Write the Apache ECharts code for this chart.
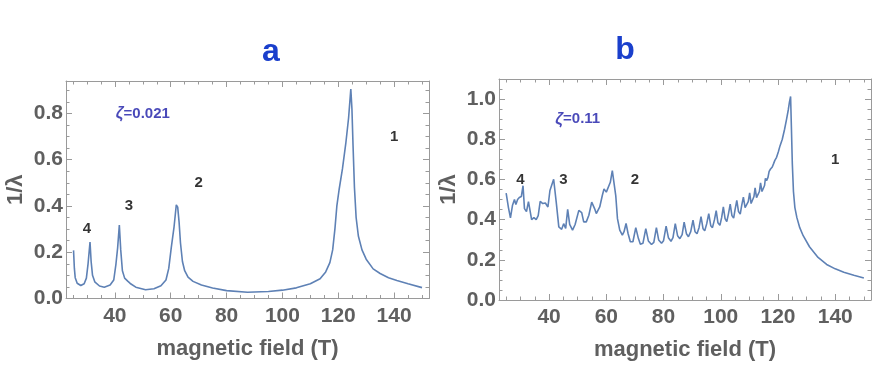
<!DOCTYPE html>
<html>
<head>
<meta charset="utf-8">
<script src="https://cdn.jsdelivr.net/npm/echarts@6/dist/echarts.min.js"></script>
<style>
html, body { margin: 0; padding: 0; background: #fff; }
#chart { width: 872px; height: 366px; }
</style>
</head>
<body>
<div id="chart"></div>
<script>
// panel a: zeta = 0.021
var fieldA = [25.2, 25.5, 25.8, 26.5, 27.8, 29.0, 29.8, 30.4, 31.1, 31.5, 32.0, 32.8, 34.5, 36.2, 38.3, 39.6, 40.4, 41.0, 41.6, 42.1, 42.7, 43.5, 44.6, 45.5, 47.5, 51.0, 54.0, 56.5, 58.3, 59.3, 60.2, 61.2, 62.0, 62.5, 63.0, 63.5, 64.2, 65.0, 66.2, 68.0, 71.0, 75.0, 80.0, 87.5, 95.0, 100, 105, 110, 113.5, 115.5, 117, 118, 118.8, 119.5, 120.3, 121.5, 122.7, 123.7, 124.5, 124.9, 125.3, 125.8, 126.4, 127.2, 128.5, 130, 132.5, 135, 138, 141, 145, 150];
var invLambdaA = [0.208, 0.13, 0.09, 0.066, 0.056, 0.064, 0.088, 0.15, 0.244, 0.16, 0.1, 0.072, 0.054, 0.049, 0.058, 0.08, 0.15, 0.22, 0.317, 0.21, 0.12, 0.088, 0.075, 0.065, 0.049, 0.038, 0.042, 0.055, 0.08, 0.13, 0.22, 0.31, 0.405, 0.395, 0.33, 0.24, 0.16, 0.12, 0.092, 0.074, 0.058, 0.045, 0.034, 0.027, 0.03, 0.036, 0.046, 0.064, 0.085, 0.115, 0.155, 0.21, 0.3, 0.4, 0.47, 0.56, 0.67, 0.78, 0.905, 0.82, 0.66, 0.48, 0.35, 0.27, 0.21, 0.17, 0.128, 0.108, 0.09, 0.078, 0.064, 0.047];

// panel b: zeta = 0.11
var fieldB = [25.0, 25.8, 26.5, 27.2, 27.9, 28.4, 29.0, 29.6, 30.3, 30.9, 31.4, 32.1, 32.8, 33.2, 33.9, 34.7, 35.5, 36.2, 36.9, 37.8, 38.7, 39.6, 40.3, 40.9, 41.6, 42.5, 43.4, 44.4, 45.1, 45.8, 46.5, 47.2, 48.2, 49.1, 49.7, 50.4, 51.4, 52.1, 53.0, 53.9, 54.9, 55.9, 56.5, 57.7, 58.6, 59.2, 60.0, 60.6, 61.4, 62.1, 62.7, 63.3, 63.9, 64.7, 65.6, 66.2, 66.9, 67.6, 68.4, 69.3, 70.3, 71.2, 71.9, 72.8, 73.8, 74.7, 75.8, 76.6, 77.5, 78.3, 79.3, 80.0, 80.9, 81.7, 82.6, 83.3, 84.1, 84.9, 85.7, 86.5, 87.2, 88.0, 88.7, 89.5, 90.3, 91.0, 91.7, 92.4, 93.1, 93.8, 94.4, 95.1, 95.8, 96.5, 97.1, 97.8, 98.4, 99.0, 99.7, 100.3, 100.9, 101.5, 102.1, 102.7, 103.3, 103.9, 104.5, 105.0, 105.6, 106.2, 106.8, 107.3, 107.9, 108.5, 109.1, 109.6, 110.1, 110.6, 111.1, 111.6, 112.0, 112.5, 113.0, 113.5, 113.9, 114.4, 114.8, 115.3, 115.6, 116.0, 116.5, 116.9, 117.4, 118.0, 118.5, 118.9, 119.5, 120.1, 120.7, 121.5, 122.3, 123.0, 123.6, 124.0, 124.4, 124.7, 125.0, 125.4, 125.9, 126.6, 127.6, 128.8, 131, 134, 137, 140, 143, 146.5, 150];
var invLambdaB = [0.532, 0.46, 0.409, 0.47, 0.5, 0.475, 0.5, 0.51, 0.515, 0.569, 0.455, 0.44, 0.49, 0.482, 0.40, 0.41, 0.40, 0.42, 0.491, 0.48, 0.483, 0.463, 0.545, 0.55, 0.601, 0.487, 0.364, 0.352, 0.38, 0.356, 0.451, 0.376, 0.348, 0.376, 0.372, 0.446, 0.435, 0.389, 0.389, 0.422, 0.487, 0.455, 0.43, 0.463, 0.52, 0.553, 0.537, 0.54, 0.586, 0.644, 0.635, 0.52, 0.405, 0.348, 0.323, 0.34, 0.381, 0.331, 0.29, 0.29, 0.36, 0.307, 0.278, 0.282, 0.355, 0.294, 0.276, 0.287, 0.36, 0.299, 0.282, 0.295, 0.368, 0.31, 0.292, 0.31, 0.38, 0.32, 0.305, 0.325, 0.388, 0.33, 0.315, 0.34, 0.398, 0.34, 0.33, 0.36, 0.415, 0.355, 0.345, 0.38, 0.43, 0.37, 0.36, 0.4, 0.445, 0.385, 0.372, 0.41, 0.463, 0.405, 0.39, 0.43, 0.477, 0.42, 0.408, 0.45, 0.496, 0.44, 0.428, 0.47, 0.512, 0.46, 0.452, 0.49, 0.533, 0.48, 0.475, 0.515, 0.558, 0.51, 0.505, 0.54, 0.583, 0.54, 0.537, 0.57, 0.606, 0.594, 0.61, 0.64, 0.652, 0.662, 0.68, 0.695, 0.71, 0.737, 0.767, 0.8, 0.85, 0.9, 0.947, 0.985, 1.013, 0.85, 0.68, 0.54, 0.46, 0.41, 0.36, 0.32, 0.265, 0.212, 0.177, 0.155, 0.138, 0.123, 0.11];

// ticks
var xMajor = [40, 60, 80, 100, 120, 140];
var xMinor = [25, 30, 35, 45, 50, 55, 65, 70, 75, 85, 90, 95, 105, 110, 115, 125, 130, 135, 145, 150];
var yMajorA = [0, 0.2, 0.4, 0.6, 0.8];
var yMinorA = [0.05, 0.1, 0.15, 0.25, 0.3, 0.35, 0.45, 0.5, 0.55, 0.65, 0.7, 0.75, 0.85, 0.9];
var yMajorB = [0, 0.2, 0.4, 0.6, 0.8, 1.0];
var yMinorB = [0.05, 0.1, 0.15, 0.25, 0.3, 0.35, 0.45, 0.5, 0.55, 0.65, 0.7, 0.75, 0.85, 0.9, 0.95, 1.05];

// peak numbers and zeta labels (data coordinates)
var peakTagsA = [[30, 0.3, '4'], [45, 0.4, '3'], [70, 0.5, '2'], [140, 0.7, '1']];
var peakTagsB = [[30, 0.6, '4'], [45, 0.6, '3'], [70, 0.6, '2'], [140, 0.7, '1']];
var zetaA = [50, 0.8, '0.021'];
var zetaB = [50, 0.9, '0.11'];

var FONT = '"Liberation Sans", Arial, sans-serif';
var GRAY = '#5f5f5f';
var FRAME = '#9a9a9a';

function toPairs(xs, ys) {
  return xs.map(function (x, i) { return [x, ys[i]]; });
}

// four sides, each with a major and a minor tick layer (frame ticks like Mathematica)
function makeAxes(dim, grid, min, max, majors, minors, name, fmt) {
  var sides = dim === 'x' ? ['bottom', 'top'] : ['left', 'right'];
  var out = [];
  sides.forEach(function (pos, s) {
    [true, false].forEach(function (isMajor) {
      var main = s === 0 && isMajor;
      out.push({
        type: 'value',
        gridIndex: grid,
        position: pos,
        min: min,
        max: max,
        name: main ? name : '',
        nameLocation: 'middle',
        nameGap: dim === 'x' ? 39 : 39,
        nameTextStyle: { fontFamily: FONT, fontSize: 22, fontWeight: 'bold', color: GRAY },
        axisLine: { show: isMajor, onZero: false, lineStyle: { color: FRAME, width: 1 } },
        axisTick: {
          show: true,
          inside: true,
          length: isMajor ? 6 : 3.5,
          customValues: isMajor ? majors : minors,
          lineStyle: { color: FRAME, width: 1 }
        },
        axisLabel: {
          show: main,
          customValues: majors,
          margin: dim === 'x' ? 7 : 3,
          fontFamily: FONT,
          fontSize: 21,
          fontWeight: 'bold',
          color: GRAY,
          formatter: fmt
        },
        splitLine: { show: false }
      });
    });
  });
  return out;
}

function tagSeries(xi, yi, tags, color) {
  return {
    type: 'scatter',
    xAxisIndex: xi,
    yAxisIndex: yi,
    symbolSize: 1,
    itemStyle: { color: 'rgba(0,0,0,0)' },
    silent: true,
    label: {
      show: true,
      position: 'inside',
      fontFamily: FONT,
      fontSize: 15,
      fontWeight: 'bold',
      color: color,
      formatter: function (p) { return p.data[2]; }
    },
    data: tags
  };
}

function zetaSeries(xi, yi, z) {
  return {
    type: 'scatter',
    xAxisIndex: xi,
    yAxisIndex: yi,
    symbolSize: 1,
    itemStyle: { color: 'rgba(0,0,0,0)' },
    silent: true,
    label: {
      show: true,
      position: 'inside',
      formatter: function (p) { return '{g|ζ}{n|=' + p.data[2] + '}'; },
      rich: {
        g: { fontFamily: FONT, fontSize: 16, fontWeight: 'bold', fontStyle: 'italic', color: '#1c1ca8' },
        n: { fontFamily: FONT, fontSize: 15, fontWeight: 'bold', color: '#1c1ca8' }
      }
    },
    data: [z]
  };
}

var fmt1 = function (v) { return v.toFixed(1); };
var fmt0 = function (v) { return String(Math.round(v)); };

var xAxes = makeAxes('x', 0, 22.5, 152.5, xMajor, xMinor, 'magnetic field (T)', fmt0)
  .concat(makeAxes('x', 1, 22.5, 152.5, xMajor, xMinor, 'magnetic field (T)', fmt0));
var yAxes = makeAxes('y', 0, 0, 0.94, yMajorA, yMinorA, '1/λ', fmt1)
  .concat(makeAxes('y', 1, 0, 1.1, yMajorB, yMinorB, '1/λ', fmt1));

var chart = echarts.init(document.getElementById('chart'));
chart.setOption({
  animation: false,
  backgroundColor: '#fff',
  title: [
    { text: 'a', left: 266, top: 31, textAlign: 'center',
      textStyle: { fontFamily: FONT, fontSize: 32, fontWeight: 'bold', color: '#1a3fcc' } },
    { text: 'b', left: 620, top: 29, textAlign: 'center',
      textStyle: { fontFamily: FONT, fontSize: 32, fontWeight: 'bold', color: '#1a3fcc' } }
  ],
  grid: [
    { left: 66, top: 81, width: 363, height: 217.5 },
    { left: 499, top: 79, width: 372, height: 223.3 }
  ],
  xAxis: xAxes,
  yAxis: yAxes,
  series: [
    {
      type: 'line',
      xAxisIndex: 0,
      yAxisIndex: 0,
      showSymbol: false,
      lineStyle: { color: '#5e81b5', width: 1.6 },
      data: toPairs(fieldA, invLambdaA)
    },
    {
      type: 'line',
      xAxisIndex: 4,
      yAxisIndex: 4,
      showSymbol: false,
      lineStyle: { color: '#5e81b5', width: 1.6 },
      data: toPairs(fieldB, invLambdaB)
    },
    tagSeries(0, 0, peakTagsA, '#000'),
    tagSeries(4, 4, peakTagsB, '#000'),
    zetaSeries(0, 0, zetaA),
    zetaSeries(4, 4, zetaB)
  ]
});
</script>
</body>
</html>
